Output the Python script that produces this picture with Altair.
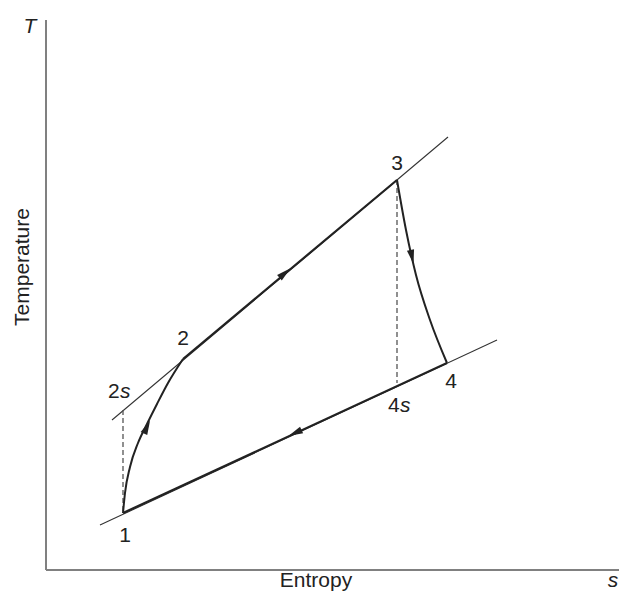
import altair as alt
import pandas as pd

# ---- data (plot units: s = entropy, T = temperature, arbitrary) ----
upper_s = [66, 402]
upper_T = [150, 433]
lower_s = [54, 451]
lower_T = [45, 230]

comp_s = [77, 79, 84, 92, 101, 111, 122, 137]
comp_T = [57, 77, 103, 127, 146, 166, 187, 211]
heat_s = [137, 351]
heat_T = [211, 390]
turb_s = [351, 360, 370, 384, 401]
turb_T = [390, 340, 295, 250, 207]
rej_s = [401, 77]
rej_T = [207, 57]

dash1_s = [77, 77]
dash1_T = [160, 57]
dash2_s = [351, 351]
dash2_T = [390, 187]

xaxis_s = [0, 581]
xaxis_T = [0, 0]
yaxis_s = [0, 0]
yaxis_T = [0, 550]

arrow_s = [239, 101, 366, 249]
arrow_T = [297, 143, 313, 137]
arrow_dir = [320, 295, 78, 155]

label_text = ["1", "2", "2", "3", "4", "4"]
label_s = [79, 137, 62, 351, 405, 342]
label_T = [28, 225, 172, 400, 182, 158]
label_align = ["center", "center", "left", "center", "center", "left"]

ital_text = ["s", "s", "T", "s"]
ital_s = [74, 354, -16, 567]
ital_T = [172, 158, 537, -17]
ital_align = ["left", "left", "center", "center"]

title_text = ["Entropy", "Temperature"]
title_s = [270, -17]
title_T = [-17, 303]
title_angle = [0, 270]


def seg(name, xs, ys):
    return pd.DataFrame({"seg": name, "s": xs, "T": ys, "o": list(range(len(xs)))})


xsc = alt.Scale(domain=[-38, 573], nice=False, zero=False)
ysc = alt.Scale(domain=[-22, 562], nice=False, zero=False)
X = alt.X("s:Q", scale=xsc, axis=None)
Y = alt.Y("T:Q", scale=ysc, axis=None)

FONT = "Liberation Sans"
INK = "#222222"

thin = pd.concat([seg("u", upper_s, upper_T), seg("l", lower_s, lower_T)])
thin_layer = alt.Chart(thin).mark_line(color="#333333", strokeWidth=1.1).encode(
    x=X, y=Y, detail="seg:N", order="o:Q")

bold_straight = pd.concat([seg("h", heat_s, heat_T), seg("r", rej_s, rej_T)])
bold_layer = alt.Chart(bold_straight).mark_line(color=INK, strokeWidth=2.2).encode(
    x=X, y=Y, detail="seg:N", order="o:Q")

curves = pd.concat([seg("c", comp_s, comp_T), seg("t", turb_s, turb_T)])
curve_layer = alt.Chart(curves).mark_line(
    color=INK, strokeWidth=2.0, interpolate="monotone").encode(
    x=X, y=Y, detail="seg:N", order="o:Q")

dashes = pd.concat([seg("d1", dash1_s, dash1_T), seg("d2", dash2_s, dash2_T)])
dash_layer = alt.Chart(dashes).mark_line(
    color="#555555", strokeWidth=1.3, strokeDash=[5, 3]).encode(
    x=X, y=Y, detail="seg:N", order="o:Q")

axes = pd.concat([seg("ax", xaxis_s, xaxis_T), seg("ay", yaxis_s, yaxis_T)])
axis_layer = alt.Chart(axes).mark_line(color="#808080", strokeWidth=2).encode(
    x=X, y=Y, detail="seg:N", order="o:Q")

arrows = pd.DataFrame({"s": arrow_s, "T": arrow_T, "a": arrow_dir})
arrow_layer = alt.Chart(arrows).mark_point(
    shape="M-1,-0.5L1,0L-1,0.5Z", filled=True, color=INK, size=210, opacity=1,
    strokeWidth=0).encode(x=X, y=Y, angle=alt.Angle("a:Q", scale=None))

labels = pd.DataFrame({"txt": label_text, "s": label_s, "T": label_T, "al": label_align})
label_layers = []
for al in ["left", "center"]:
    d = labels[labels.al == al]
    label_layers.append(alt.Chart(d).mark_text(
        font=FONT, fontSize=21, color=INK, align=al, baseline="alphabetic").encode(
        x=X, y=Y, text="txt:N"))

ital = pd.DataFrame({"txt": ital_text, "s": ital_s, "T": ital_T, "al": ital_align})
for al in ["left", "center"]:
    d = ital[ital.al == al]
    label_layers.append(alt.Chart(d).mark_text(
        font=FONT, fontSize=21, fontStyle="italic", color=INK, align=al,
        baseline="alphabetic").encode(x=X, y=Y, text="txt:N"))

titles = pd.DataFrame({"txt": title_text, "s": title_s, "T": title_T, "ang": title_angle})
title_layer = alt.Chart(titles).mark_text(
    font=FONT, fontSize=21, color=INK, align="center", baseline="alphabetic").encode(
    x=X, y=Y, text="txt:N", angle=alt.Angle("ang:Q", scale=None))

chart = alt.layer(
    axis_layer, thin_layer, dash_layer, bold_layer, curve_layer, arrow_layer,
    title_layer, *label_layers
).properties(
    width=611, height=584, padding=0,
    autosize=alt.AutoSizeParams(type="none"),
).configure_view(stroke=None)

chart.save("out.html", embed_options={"renderer": "svg", "actions": False})
